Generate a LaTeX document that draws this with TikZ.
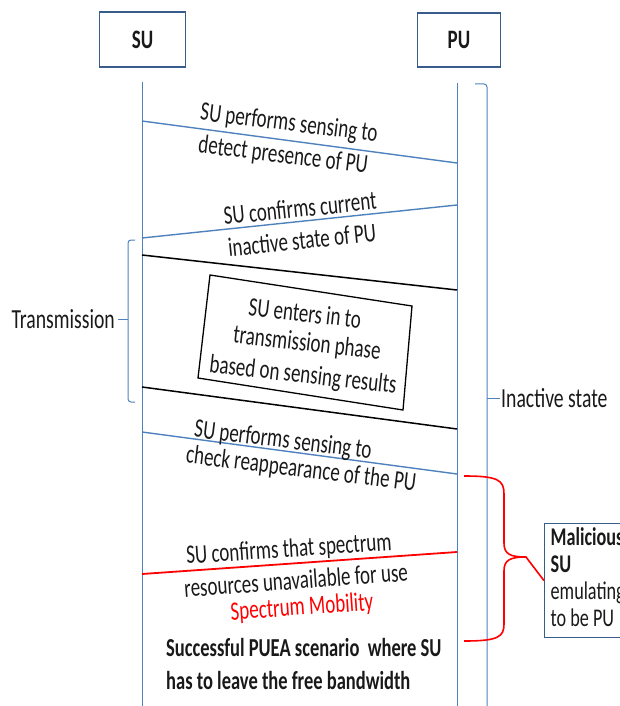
\documentclass[tikz,border=0pt]{standalone}
\usepackage{fontspec}
\setmainfont{Carlito}
\usepackage{graphicx}
\definecolor{lineblue}{RGB}{79,129,189}
\definecolor{boxblue}{RGB}{56,93,138}
\definecolor{ink}{RGB}{25,25,25}
% text in this figure is drawn tall and narrow
\newcommand\tall[1]{\scalebox{1}[1.4]{#1}}
\newcommand\tallstack[2]{\scalebox{1}[1.4]{\begin{tabular}{@{}#1@{}}#2\end{tabular}}}

\begin{document}
\begin{tikzpicture}[x=1pt,y=-1pt,
  txt/.style={font=\fontsize{19}{19.3}\selectfont, text=ink, inner sep=0pt},
  side/.style={txt, font=\fontsize{19.7}{20}\selectfont},
  party/.style={draw=boxblue, line width=1.3pt, txt},
  life/.style={lineblue, line width=1pt},
  msg/.style={lineblue, line width=1.4pt},
  phase/.style={black, line width=1.5pt},
  alert/.style={red, line width=1.8pt},
  brace/.style={lineblue, line width=1pt, rounded corners=3pt}]

\clip (0,0) rectangle (620,706);

% participants
\node[party, minimum width=86pt, minimum height=55pt] (su) at (142.5,39.5) {\tall{\bfseries SU}};
\node[party, minimum width=83pt, minimum height=54pt] (pu) at (459,40) {\tall{\bfseries PU}};

% lifelines
\coordinate (suTop) at (142,82);
\coordinate (suBot) at (142,712);
\coordinate (puTop) at (457,83);
\coordinate (puBot) at (457,712);
\draw[life] (suTop) -- (suBot);
\draw[life] (puTop) -- (puBot);

% inactive-state brace
\coordinate (iaHook) at (475,84);
\coordinate (iaCorner) at (487,84);
\coordinate (iaBot) at (487,712);
\coordinate (iaMid) at (487,398);
\coordinate (iaTip) at (500,398);
\draw[brace] (iaHook) -- (iaCorner) -- (iaBot);
\draw[lineblue, line width=1pt] (iaMid) -- (iaTip);
\node[side, anchor=west] (inactive) at (501,398) {\tall{Inactive state}};

% transmission brace
\coordinate (trTop) at (135,240);
\coordinate (trTopC) at (128,240);
\coordinate (trBotC) at (128,402);
\coordinate (trBot) at (135,402);
\coordinate (trMid) at (128,319);
\coordinate (trTip) at (118,319);
\draw[brace] (trTop) -- (trTopC) -- (trBotC) -- (trBot);
\draw[lineblue, line width=1pt] (trMid) -- (trTip);
\node[side, anchor=east] (transmission) at (115,319) {\tall{Transmission}};

% message 1
\coordinate (s1) at (142,121);
\coordinate (p1) at (457,163);
\draw[msg] (s1) -- (p1);
\node[txt, rotate=-7] (m1a) at (289,124) {\tall{SU performs sensing to}};
\node[txt, rotate=-7] (m1b) at (283,156) {\tall{detect presence of PU}};

% message 2
\coordinate (p2) at (457,205);
\coordinate (s2) at (142,238);
\draw[msg] (p2) -- (s2);
\node[txt, rotate=5.8] (m2a) at (300,208) {\tall{SU confirms current}};
\node[txt, rotate=5.8] (m2b) at (302,240) {\tall{inactive state of PU}};

% transmission phase
\coordinate (s3) at (142,255);
\coordinate (p3) at (457,290);
\coordinate (s4) at (142,387);
\coordinate (p4) at (457,429);
\draw[phase] (s3) -- (p3);
\draw[phase] (s4) -- (p4);
\coordinate (bxA) at (210,275);
\coordinate (bxB) at (412,306);
\coordinate (bxC) at (403,410);
\coordinate (bxD) at (198,378);
\draw[black, line width=1.3pt] (bxA) -- (bxB) -- (bxC) -- (bxD) -- cycle;
\node[txt, rotate=-6.5] (ph1) at (305,313) {\tall{SU enters in to}};
\node[txt, rotate=-6.5] (ph2) at (307,344) {\tall{transmission phase}};
\node[txt, rotate=-6.5] (ph3) at (303,376) {\tall{based on sensing results}};

% message 3
\coordinate (s5) at (142,432);
\coordinate (p5) at (457,474);
\draw[msg] (s5) -- (p5);
\node[txt, rotate=-7] (m3a) at (283,441) {\tall{SU performs sensing to}};
\node[txt, rotate=-7] (m3b) at (301,470) {\tall{check reappearance of the PU}};

% malicious confirmation
\coordinate (p6) at (457,552);
\coordinate (s6) at (142,574);
\draw[alert] (p6) -- (s6);
\node[txt, rotate=3.8] (r1) at (289,550) {\tall{SU confirms that spectrum}};
\node[txt, rotate=4.2] (r2) at (296,580) {\tall{resources unavailable for use}};
\node[txt, rotate=4, text=red] (r3) at (302,608) {\tall{Spectrum Mobility}};

\node[txt, anchor=west, font=\fontsize{18.5}{23.5}\selectfont\bfseries] (result) at (166,666)
  {\tallstack{l}{Successful PUEA scenario\ \ where SU\\has to leave the free bandwidth}};

% attacker annotation
\node[txt, font=\fontsize{18.2}{19.3}\selectfont, draw=boxblue, line width=1.3pt,
  anchor=north west, inner xsep=6pt, minimum height=114pt] (mal) at (544,523)
  {\tallstack{l}{\bfseries Malicious\\\bfseries SU\\emulating\\to be PU}};
\coordinate (rbTop) at (464,476);
\coordinate (rbBot) at (464,641);
\draw[alert, line width=1.6pt] (rbTop) .. controls (498,476) and (504,480) .. (504,494)
  -- (504,543) .. controls (504,554) and (510,557) .. (526,557) -- (mal.west);
\draw[alert, line width=1.6pt] (526,557) .. controls (510,557) and (504,560) .. (504,571)
  -- (504,624) .. controls (504,637) and (498,641) .. (rbBot);
\end{tikzpicture}
\end{document}
